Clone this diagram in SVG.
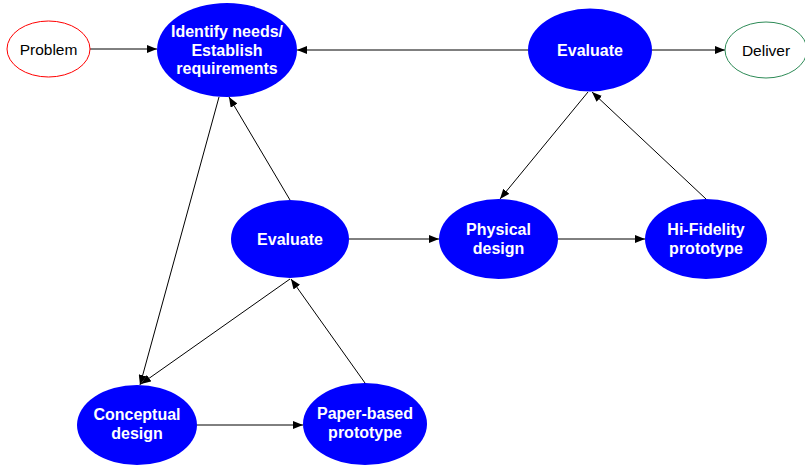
<svg xmlns="http://www.w3.org/2000/svg" width="805" height="466" viewBox="0 0 805 466">
  <style>
    .step { fill: #0000ff; stroke: none; }
    .step-text { font-family: "Liberation Sans", Arial, sans-serif; font-size: 16px; font-weight: bold; fill: #ffffff; text-anchor: middle; }
    .end-text { font-family: "Liberation Sans", Arial, sans-serif; font-size: 15.5px; fill: #000000; text-anchor: middle; }
    .edge { stroke: #000000; stroke-width: 1; fill: none; marker-end: url(#arrow); }
  </style>
  <defs>
    <marker id="arrow" viewBox="0 0 10 8" refX="10" refY="4" markerWidth="10" markerHeight="8" markerUnits="userSpaceOnUse" orient="auto">
      <path d="M0,0 L10,4 L0,8 Z" fill="#000000"/>
    </marker>
  </defs>
  <rect width="805" height="466" fill="#ffffff"/>

  <!-- connectors -->
  <g id="connectors">
    <line class="edge" x1="90" y1="49" x2="157" y2="49"/>
    <line class="edge" x1="528" y1="50" x2="297" y2="50"/>
    <line class="edge" x1="652" y1="50" x2="725" y2="50"/>
    <line class="edge" x1="219" y1="97" x2="140" y2="385"/>
    <line class="edge" x1="290" y1="200" x2="229" y2="97"/>
    <line class="edge" x1="290" y1="279" x2="141" y2="384"/>
    <line class="edge" x1="365" y1="383" x2="291" y2="279"/>
    <line class="edge" x1="197" y1="425" x2="303" y2="425"/>
    <line class="edge" x1="349" y1="239" x2="439" y2="239"/>
    <line class="edge" x1="558" y1="239" x2="645" y2="239"/>
    <line class="edge" x1="706" y1="199" x2="592" y2="92"/>
    <line class="edge" x1="588" y1="92" x2="500" y2="199"/>
  </g>

  <g id="problem">
    <ellipse cx="48.5" cy="49" rx="41.5" ry="28" fill="#ffffff" stroke="#ff0000" stroke-width="1"/>
    <text class="end-text" x="48.5" y="55">Problem</text>
  </g>

  <g id="identify">
    <ellipse class="step" cx="227" cy="50" rx="70" ry="47"/>
    <text class="step-text" x="227" y="37">Identify needs/</text>
    <text class="step-text" x="227" y="55.5">Establish</text>
    <text class="step-text" x="227" y="74">requirements</text>
  </g>

  <g id="evaluate-top">
    <ellipse class="step" cx="590" cy="50" rx="62" ry="41.5"/>
    <text class="step-text" x="590" y="55.5">Evaluate</text>
  </g>

  <g id="deliver">
    <ellipse cx="766" cy="50" rx="41" ry="28" fill="#ffffff" stroke="#2e8b57" stroke-width="1"/>
    <text class="end-text" x="766" y="55.5">Deliver</text>
  </g>

  <g id="evaluate-mid">
    <ellipse class="step" cx="290" cy="239" rx="59" ry="39"/>
    <text class="step-text" x="290" y="244.5">Evaluate</text>
  </g>

  <g id="physical">
    <ellipse class="step" cx="498.5" cy="239" rx="59.5" ry="40"/>
    <text class="step-text" x="498.5" y="234.5">Physical</text>
    <text class="step-text" x="498.5" y="253.5">design</text>
  </g>

  <g id="hifi">
    <ellipse class="step" cx="706" cy="239" rx="61" ry="40"/>
    <text class="step-text" x="706" y="234.5">Hi-Fidelity</text>
    <text class="step-text" x="706" y="253.5">prototype</text>
  </g>

  <g id="conceptual">
    <ellipse class="step" cx="137" cy="425" rx="60" ry="40"/>
    <text class="step-text" x="137" y="420">Conceptual</text>
    <text class="step-text" x="137" y="439">design</text>
  </g>

  <g id="paper">
    <ellipse class="step" cx="365" cy="424" rx="62" ry="41"/>
    <text class="step-text" x="365" y="419">Paper-based</text>
    <text class="step-text" x="365" y="438">prototype</text>
  </g>
</svg>
